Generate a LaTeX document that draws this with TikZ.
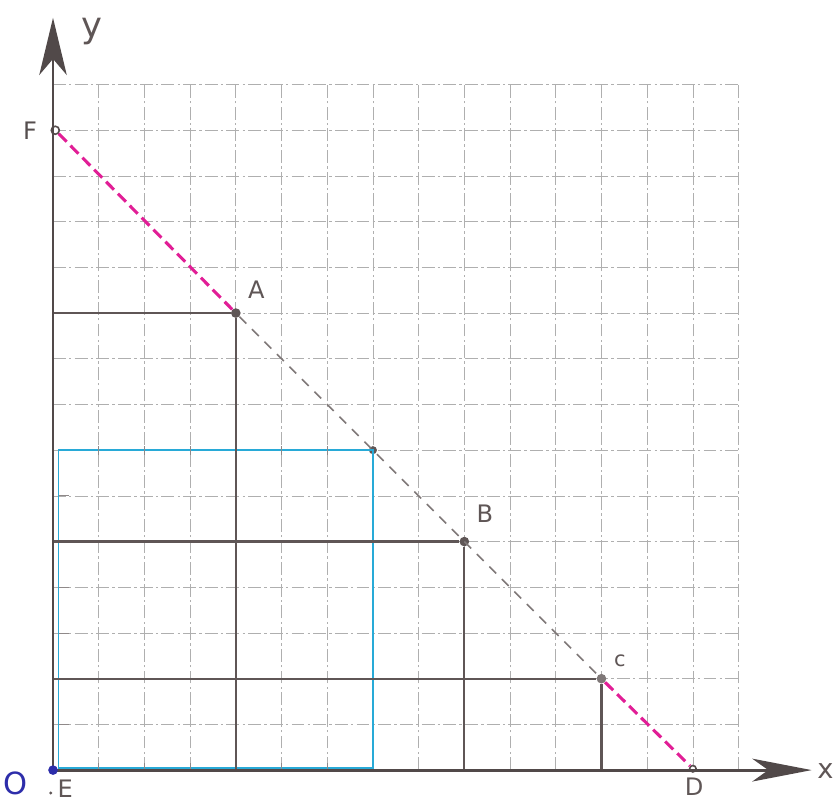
\documentclass[tikz,border=0pt]{standalone}
\usepackage{fontspec}
\setsansfont{DejaVu Sans}
\usetikzlibrary{arrows.meta}
\definecolor{pencil}{RGB}{95,86,86}
\definecolor{gridc}{RGB}{175,175,175}
\definecolor{bluec}{RGB}{40,170,215}
\definecolor{magc}{RGB}{225,30,150}
\definecolor{inkblue}{RGB}{45,45,170}
\tikzset{
  gridline/.style={gridc, line width=0.45pt, dash pattern=on 8pt off 2pt on 1.5pt off 2pt},
  axisline/.style={pencil!85!black, line width=1.8pt},
  rectline/.style={pencil, line width=1.4pt},
  blueline/.style={bluec, line width=1.2pt},
  magdash/.style={magc, line width=1.9pt, dash pattern=on 7pt off 3.5pt},
  graydash/.style={pencil!80, line width=0.9pt, dash pattern=on 6pt off 5pt},
  pt/.style={circle, fill=pencil, inner sep=0pt, minimum size=6pt},
  hollowpt/.style={circle, draw=pencil!90!black, fill=white, line width=1pt, inner sep=0pt, minimum size=5pt},
  lbl/.style={text=pencil, font=\sffamily\fontsize{15}{18}\selectfont, inner sep=0pt},
  tick/.style={pencil!70, line width=0.6pt}
}
\begin{document}
\begin{tikzpicture}[x=1cm,y=1cm]
\useasboundingbox (-1.16,-0.70) rectangle (17.11,16.85);
% grid
\foreach \i in {1,...,15} {
  \draw[gridline] (\i,0) -- (\i,15);
  \draw[gridline] (0,\i) -- (15,\i);
}
% coordinates
\coordinate (O) at (0,0);
\coordinate (Xend) at (16.6,0);
\coordinate (Yend) at (0,16.46);
\coordinate (Ax) at (4,0);
\coordinate (Ay) at (0,10);
\coordinate (Bx) at (9,0);
\coordinate (By) at (0,5);
\coordinate (Cx) at (12,0);
\coordinate (Cy) at (0,2);
\coordinate (Q1) at (0.12,0.04);
\coordinate (Q2) at (7,0.04);
\coordinate (Q4) at (0.12,7);
% blue square
\node[circle, fill=pencil, inner sep=0pt, minimum size=5pt] (Q) at (7,7) {};
\draw[blueline] (Q1) -- (Q2) -- (Q.center) -- (Q4) -- cycle;
\foreach \i in {1,...,6} {
  \draw[tick] (\i,6.9) -- (\i,7.1);
  \draw[tick] (0.12,\i) -- (0.35,\i);
  \draw[tick] (\i,0.0) -- (\i,0.15);
}
% points
\node[pt] (A) at (4,10) {};
\node[pt] (B) at (9,5) {};
\node[pt, fill=pencil!80] (C) at (12,2) {};
\node[hollowpt] (F) at (0.05,14) {};
\node[hollowpt, minimum size=4pt] (D) at (14,0.03) {};
% rectangles
\draw[rectline] (Ay) -- (A) -- (Ax);
\draw[rectline] (By) -- (B) -- (Bx);
\draw[rectline] (Cy) -- (C) -- (Cx);
% diagonal
\draw[magdash] (F) -- (A);
\draw[graydash] (A) -- (C);
\draw[magdash] (C) -- (D);
% axes
\draw[axisline, -{Stealth[length=1.3cm, width=0.5cm, inset=0.35cm]}] (O) -- (Xend);
\draw[axisline, -{Stealth[length=1.25cm, width=0.6cm, inset=0.35cm]}] (0,-0.02) -- (Yend);
\node[circle, fill=inkblue, inner sep=0pt, minimum size=6pt] (Odot) at (0,0) {};
% labels
\node[lbl, font=\sffamily\fontsize{22}{24}\selectfont] (ylab) at (0.85,16.15) {y};
\node[lbl, font=\sffamily\fontsize{17}{20}\selectfont] (xlab) at (16.9,-0.02) {x};
\node[lbl, text=pencil!90!black] (Flab) at (-0.5,13.98) {F};
\node[lbl] (Alab) at (4.45,10.5) {A};
\node[lbl] (Blab) at (9.45,5.6) {B};
\node[lbl, font=\sffamily\fontsize{13}{16}\selectfont] (Clab) at (12.4,2.4) {c};
\node[lbl] (Dlab) at (14.03,-0.36) {D};
\node[lbl, text=inkblue, font=\sffamily\fontsize{19}{22}\selectfont] (Olab) at (-0.82,-0.3) {O};
\node[lbl] (Elab) at (0.27,-0.4) {E};
\node[circle, fill=pencil, inner sep=0pt, minimum size=2pt] (Edot) at (-0.05,-0.5) {};
\end{tikzpicture}
\end{document}
